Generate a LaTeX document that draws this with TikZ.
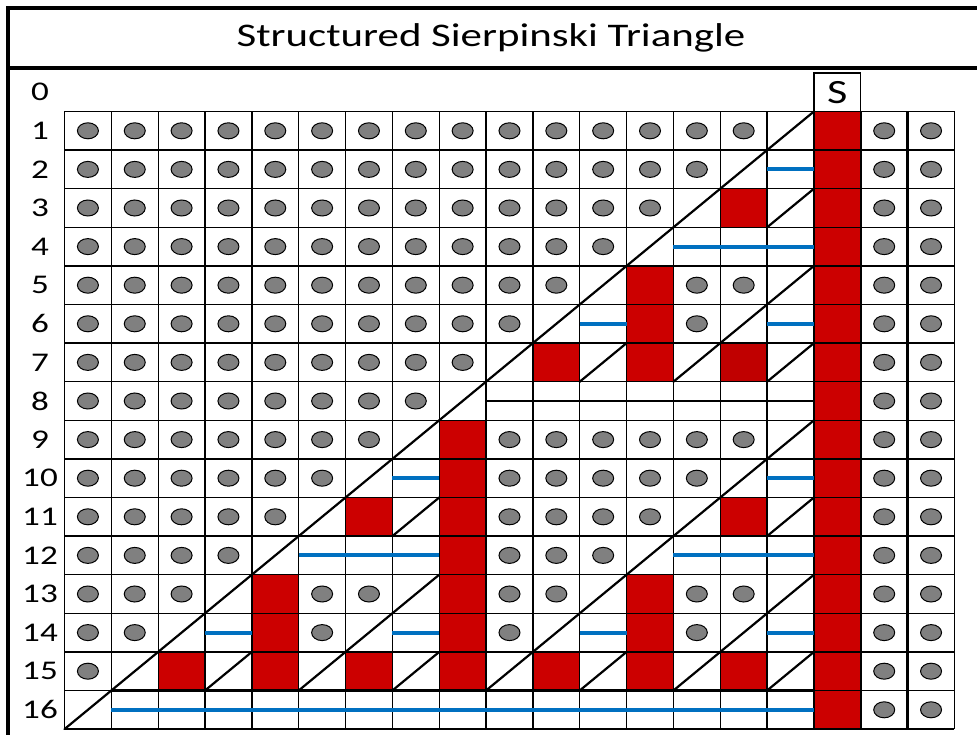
\documentclass[tikz,border=0pt]{standalone}
\usepackage{fontspec}
\newfontfamily\calfont[FakeStretch=1.3]{Carlito}
\definecolor{cellred}{HTML}{CC0000}
\definecolor{cellreddark}{HTML}{C00000}
\definecolor{lineblue}{HTML}{0070C0}
\definecolor{dotgray}{HTML}{808080}
\begin{document}
\begin{tikzpicture}[x=1pt,y=-1pt,
  declare function={cx(\x)=64.5+(\x-1)*46.84; ry(\x)=72.9+\x*38.6;},
  gridline/.style={line width=1.3pt,draw=black},
  thickgrid/.style={line width=2.4pt,draw=black},
  frameline/.style={line width=4pt,draw=black},
  dot/.style={fill=dotgray,draw=black,line width=1pt},
  diagline/.style={line width=2.2pt,draw=black,line cap=round},
  blueline/.style={line width=4pt,draw=lineblue},
  blackline/.style={line width=2.8pt,draw=black},
  rowlabel/.style={font=\calfont\fontsize{27}{30}\selectfont,inner sep=0pt,anchor=center}]
\useasboundingbox (0,0) rectangle (977,735);
\fill[white] (0,0) rectangle (977,735);
% frame
\draw[frameline] (977,7.8) -- (8,7.8) -- (8,737);
\draw[frameline] (8,68.5) -- (977,68.5);
\node[font=\calfont\fontsize{33}{36}\selectfont,inner sep=0pt] (title) at (491,38) {Structured Sierpinski Triangle};
% red cells
\foreach \r in {1,...,16}
  \fill[cellred] ({cx(17)},{ry(\r)}) rectangle ({cx(18)},{ry(\r+1)});
\foreach \r/\c in {3/15, 7/11, 11/7, 11/15, 15/3, 15/7, 15/11, 15/15,
  5/13, 6/13, 7/13, 13/13, 14/13, 15/13, 13/5, 14/5, 15/5,
  9/9, 10/9, 11/9, 12/9, 13/9, 14/9, 15/9}
  \fill[cellred] ({cx(\c)},{ry(\r)}) rectangle ({cx(\c+1)},{ry(\r+1)});
\fill[cellreddark] ({cx(15)},{ry(7)}) rectangle ({cx(16)},{ry(8)});
% grid
\foreach \c in {1,...,20}
  \draw[gridline] ({cx(\c)},{ry(1)}) -- ({cx(\c)},{ry(17)});
\foreach \r in {1,...,17}
  \draw[gridline] ({cx(1)},{ry(\r)}) -- ({cx(20)},{ry(\r)});
\foreach \c in {17,18,19}
  \draw[thickgrid] ({cx(\c)},{ry(1)}) -- ({cx(\c)},{ry(17)});
\draw[thickgrid] ({cx(2)},{ry(16)}) -- ({cx(17)},{ry(16)});
% S box
\draw[gridline] ({cx(17)},{ry(0)}) rectangle ({cx(18)},{ry(1)});
\node[font=\calfont\fontsize{34}{36}\selectfont,inner sep=0pt] (S) at ({cx(17)+23.42},{ry(0)+19.3}) {S};
% row labels
\foreach \r in {0,...,16}
  \node[rowlabel] (lab\r) at (40,{ry(\r)+19.3}) {\r};
% circles above main diagonal
\foreach \r in {1,...,15}{
  \pgfmathtruncatemacro{\last}{16-\r}
  \foreach \c in {1,...,\last}
    \draw[dot] ({cx(\c)+23.42},{ry(\r)+19.3}) ellipse [x radius=10.5pt, y radius=8pt];
}
% circles in the two right columns
\foreach \r in {1,...,16}
  \foreach \c in {18,19}
    \draw[dot] ({cx(\c)+23.42},{ry(\r)+19.3}) ellipse [x radius=10.5pt, y radius=8pt];
% circles inside the triangle
\foreach \r/\c in {5/14, 5/15, 6/14,
  9/10, 9/11, 9/12, 9/13, 9/14, 9/15,
  10/10, 10/11, 10/12, 10/13, 10/14,
  11/10, 11/11, 11/12, 11/13,
  12/10, 12/11, 12/12,
  13/6, 13/7, 13/10, 13/11, 13/14, 13/15,
  14/6, 14/10, 14/14}
  \draw[dot] ({cx(\c)+23.42},{ry(\r)+19.3}) ellipse [x radius=10.5pt, y radius=8pt];
% diagonals
\draw[diagline] ({cx(1)},{ry(17)}) -- ({cx(17)},{ry(1)});
\draw[diagline] ({cx(10)},{ry(16)}) -- ({cx(17)},{ry(9)});
\draw[diagline] ({cx(14)},{ry(8)}) -- ({cx(17)},{ry(5)});
\draw[diagline] ({cx(14)},{ry(16)}) -- ({cx(17)},{ry(13)});
\draw[diagline] ({cx(6)},{ry(16)}) -- ({cx(9)},{ry(13)});
\foreach \r/\c in {3/16, 7/12, 7/16, 11/8, 11/16, 15/4, 15/8, 15/12, 15/16}
  \draw[diagline] ({cx(\c)},{ry(\r+1)}) -- ({cx(\c+1)},{ry(\r)});
% horizontal lines
\foreach \r/\a/\b in {2/16/16, 4/14/16, 6/12/12, 6/16/16, 10/8/8, 10/16/16,
  12/6/8, 12/14/16, 14/4/4, 14/8/8, 14/12/12, 14/16/16, 16/2/16}
  \draw[blueline] ({cx(\a)},{ry(\r)+19.3}) -- ({cx(\b+1)},{ry(\r)+19.3});
\draw[blackline] ({cx(10)},{ry(8)+19.3}) -- ({cx(17)},{ry(8)+19.3});
\end{tikzpicture}
\end{document}
